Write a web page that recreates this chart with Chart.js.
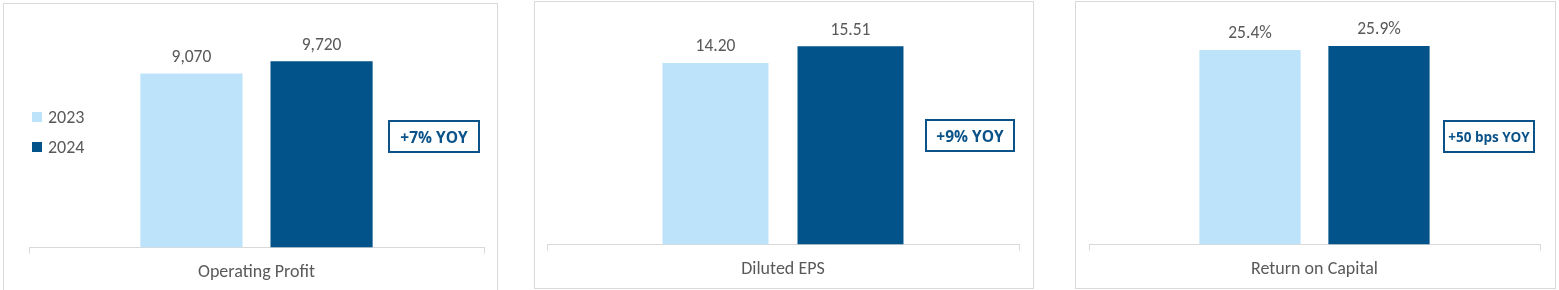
<!DOCTYPE html>
<html>
<head>
<meta charset="utf-8">
<script src="https://cdn.jsdelivr.net/npm/chart.js@4"></script>
<style>
  html, body { margin: 0; padding: 0; background: #fff; }
  body { width: 1559px; height: 290px; position: relative; overflow: hidden; font-family: Carlito, Lato, "Liberation Sans", sans-serif; }
  .panel { position: absolute; border: 1px solid #D9D9D9; box-sizing: border-box; background: #fff; }
  .cv { position: absolute; }
  .yoy { position: absolute; box-sizing: border-box; border: 2px solid #0B5288; color: #0B5288; font-weight: bold; font-family: "Open Sans", Lato, sans-serif; display: flex; align-items: center; justify-content: center; white-space: nowrap; }
  .legend { position: absolute; color: #595959; font-size: 18px; }
  .legend .item { position: absolute; display: flex; align-items: center; white-space: nowrap; }
  .legend .sw { width: 10px; height: 10px; margin-right: 6px; }
</style>
</head>
<body>
<script>
// ---- data ----
const years = ['2023', '2024'];
const categories = ['Operating Profit', 'Diluted EPS', 'Return on Capital'];
const values2023 = [9070, 14.20, 25.4];
const values2024 = [9720, 15.51, 25.9];
const valueLabels2023 = ['9,070', '14.20', '25.4%'];
const valueLabels2024 = ['9,720', '15.51', '25.9%'];
const yoyLabels = ['+7% YOY', '+9% YOY', '+50 bps YOY'];
const yMax = [12000, 18, 30];

// ---- styling / layout ----
const colors = ['#BDE3FB', '#02538A'];
const textColor = '#595959';
const fontFamily = 'Carlito, Lato, "Liberation Sans", sans-serif';

const panels = [
  { box: [3, 3, 495, 300], canvas: [4, 4, 493, 288], pad: { left: 25, right: 13, top: 13.4, bottom: 0 }, yoy: [388, 120, 92, 33, 15.5] },
  { box: [534, 1, 500, 288], canvas: [535, 2, 497, 287], pad: { left: 12, right: 13, top: 12.4, bottom: 0 }, yoy: [925, 119, 90, 33, 15.5] },
  { box: [1075, 1, 481, 288], canvas: [1076, 2, 479, 287], pad: { left: 13, right: 15, top: 12.7, bottom: 0 }, yoy: [1443, 120, 92, 33, 13.5] }
];

const valueLabelPlugin = {
  id: 'valueLabels',
  afterDatasetsDraw(chart) {
    const ctx = chart.ctx;
    ctx.save();
    ctx.font = '17.5px ' + fontFamily;
    ctx.fillStyle = textColor;
    ctx.textAlign = 'center';
    ctx.textBaseline = 'middle';
    chart.data.datasets.forEach((ds, di) => {
      const meta = chart.getDatasetMeta(di);
      meta.data.forEach((bar, i) => {
        ctx.fillText(ds.valueLabels[i], bar.x, bar.y - 16);
      });
    });
    ctx.restore();
  }
};

panels.forEach((p, k) => {
  const box = document.createElement('div');
  box.className = 'panel';
  Object.assign(box.style, { left: p.box[0] + 'px', top: p.box[1] + 'px', width: p.box[2] + 'px', height: p.box[3] + 'px' });
  document.body.appendChild(box);

  const wrap = document.createElement('div');
  wrap.className = 'cv';
  Object.assign(wrap.style, { left: p.canvas[0] + 'px', top: p.canvas[1] + 'px', width: p.canvas[2] + 'px', height: p.canvas[3] + 'px' });
  const cv = document.createElement('canvas');
  wrap.appendChild(cv);
  document.body.appendChild(wrap);

  new Chart(cv, {
    type: 'bar',
    data: {
      labels: [categories[k]],
      datasets: [
        { label: years[0], data: [values2023[k]], valueLabels: [valueLabels2023[k]], backgroundColor: colors[0] },
        { label: years[1], data: [values2024[k]], valueLabels: [valueLabels2024[k]], backgroundColor: colors[1] }
      ]
    },
    options: {
      responsive: true,
      maintainAspectRatio: false,
      animation: false,
      devicePixelRatio: 1,
      layout: { padding: p.pad },
      categoryPercentage: 0.572,
      barPercentage: 0.785,
      plugins: { legend: { display: false }, tooltip: { enabled: false } },
      scales: {
        y: { display: false, min: 0, max: yMax[k] },
        x: {
          grid: { display: true, offset: true, drawOnChartArea: false, drawTicks: true, tickLength: 6, color: '#D9D9D9', lineWidth: 1 },
          border: { display: true, color: '#D9D9D9', width: 1 },
          ticks: { color: textColor, font: { family: fontFamily, size: 18 }, padding: 8.4 }
        }
      }
    },
    plugins: [valueLabelPlugin]
  });

  const y = document.createElement('div');
  y.className = 'yoy';
  y.textContent = yoyLabels[k];
  Object.assign(y.style, { left: p.yoy[0] + 'px', top: p.yoy[1] + 'px', width: p.yoy[2] + 'px', height: p.yoy[3] + 'px', fontSize: p.yoy[4] + 'px' });
  document.body.appendChild(y);
});

// legend for the first panel, built from the series names and colours
const legend = document.createElement('div');
legend.className = 'legend';
document.body.appendChild(legend);
const legendPos = [[32, 112], [32, 142]];
years.forEach((yr, i) => {
  const it = document.createElement('div');
  it.className = 'item';
  it.style.left = legendPos[i][0] + 'px';
  it.style.top = (legendPos[i][1] - 5) + 'px';
  it.style.height = '20px';
  const sw = document.createElement('span');
  sw.className = 'sw';
  sw.style.background = colors[i];
  const tx = document.createElement('span');
  tx.textContent = yr;
  it.appendChild(sw);
  it.appendChild(tx);
  legend.appendChild(it);
});
</script>
</body>
</html>
